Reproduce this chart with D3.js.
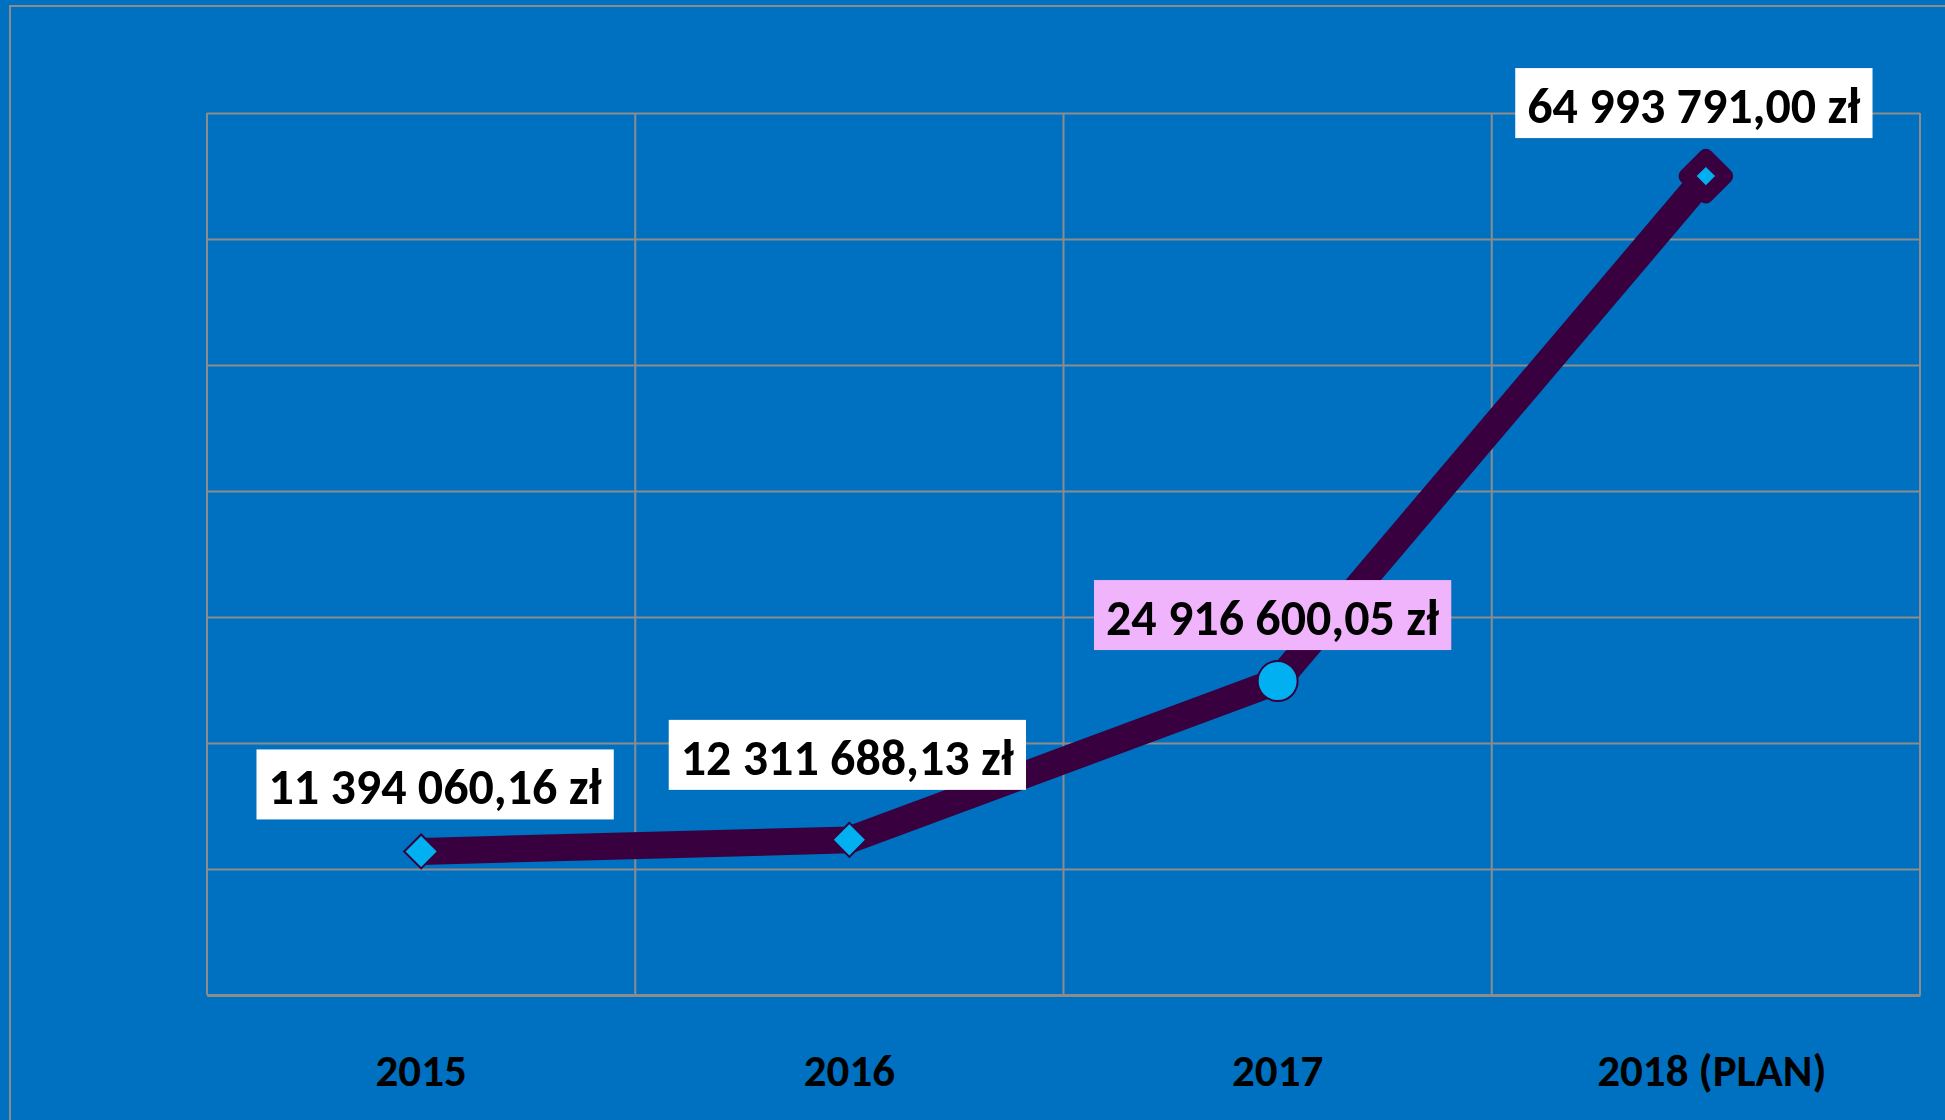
<!DOCTYPE html>
<html>
<head>
<meta charset="utf-8">
<script src="https://cdnjs.cloudflare.com/ajax/libs/d3/7.8.5/d3.min.js"></script>
<style>
	html, body { margin: 0; padding: 0; background: #0070c0; overflow: hidden; }
	svg { display: block; }
</style>
</head>
<body>
<svg id="chart"></svg>
<script>
// data
var years = ["2015", "2016", "2017", "2018 (PLAN)"];
var amounts = [11394060.16, 12311688.13, 24916600.05, 64993791.00];
var yTicks = [0, 10e6, 20e6, 30e6, 40e6, 50e6, 60e6, 70e6];

// per point styling (the labels were placed by hand in the original)
var markerKinds = ["diamond", "diamond", "circle", "endDiamond"];
var labelFills = ["#ffffff", "#ffffff", "#f0b4fc", "#ffffff"];
var labelOffsets = [[14, -47], [-2, -65], [-5, -46], [-12, -53]];

var W = 1945, H = 1120;
var margin = {top: 113, right: 25, bottom: 125, left: 207};
var width = W - margin.left - margin.right;
var height = H - margin.top - margin.bottom;

var lineColour = "#38003e";
var markerColour = "#00b0f0";
var gridColour = "#8c8c8c";
var fontFamily = "Carlito, Calibri, 'Open Sans', sans-serif";

var pl = d3.formatLocale({decimal: ",", thousands: " ", grouping: [3], currency: ["", " zł"]});
var money = pl.format("$,.2f");

var svg = d3.select("#chart")
	.attr("width", W)
	.attr("height", H);

svg.append("rect")
	.attr("width", W)
	.attr("height", H)
	.attr("fill", "#0070c0");

// outer frame of the chart object
svg.append("rect")
	.attr("x", 10)
	.attr("y", 6)
	.attr("width", W + 50)
	.attr("height", H + 50)
	.attr("fill", "none")
	.attr("stroke", gridColour)
	.attr("stroke-width", 2);

var g = svg.append("g")
	.attr("transform", "translate(" + margin.left + "," + margin.top + ")");

var x = d3.scaleBand()
	.domain(years)
	.range([0, width])
	.paddingInner(0)
	.paddingOuter(0);

var y = d3.scaleLinear()
	.domain([0, 70e6])
	.range([height, 0]);

var cx = function(d, i) { return x(years[i]) + x.bandwidth() / 2; };
var cy = function(d) { return y(d); };

// horizontal grid
var gy = g.append("g")
	.call(d3.axisLeft(y).tickValues(yTicks).tickSize(-width).tickFormat(""));
gy.select(".domain").remove();
gy.selectAll("line")
	.attr("stroke", gridColour)
	.attr("stroke-width", 2);

// vertical grid at category borders
g.append("g")
	.selectAll("line")
	.data(years.concat(["end"]))
	.join("line")
		.attr("x1", function(d, i) { return i < years.length ? x(d) : width; })
		.attr("x2", function(d, i) { return i < years.length ? x(d) : width; })
		.attr("y1", 0)
		.attr("y2", height)
		.attr("stroke", gridColour)
		.attr("stroke-width", 2);

// category axis
var gx = g.append("g")
	.attr("transform", "translate(0," + height + ")")
	.call(d3.axisBottom(x).tickSize(0));
gx.select(".domain")
	.attr("stroke", gridColour)
	.attr("stroke-width", 3);
gx.selectAll("text")
	.attr("y", 91)
	.attr("dy", 0)
	.attr("fill", "#000")
	.attr("font-family", fontFamily)
	.attr("font-weight", "bold")
	.attr("font-size", 45);
gx.selectAll(".tick").filter(function(d, i) { return i == years.length - 1; })
	.select("text")
		.attr("x", 6);

// the line
var line = d3.line()
	.x(cx)
	.y(cy);

g.append("path")
	.datum(amounts)
	.attr("fill", "none")
	.attr("stroke", lineColour)
	.attr("stroke-width", 27)
	.attr("stroke-linejoin", "round")
	.attr("stroke-linecap", "butt")
	.attr("d", line);

// markers
var square = function(side) { return d3.symbol().type(d3.symbolSquare).size(side * side)(); };
var markers = g.append("g")
	.selectAll("g")
	.data(amounts)
	.join("g")
		.attr("transform", function(d, i) { return "translate(" + cx(d, i) + "," + cy(d) + ")"; });

markers.each(function(d, i) {
	var m = d3.select(this);
	var kind = markerKinds[i];
	if (kind == "circle") {
		m.append("circle")
			.attr("r", 20)
			.attr("fill", markerColour)
			.attr("stroke", lineColour)
			.attr("stroke-width", 2);
	} else if (kind == "endDiamond") {
		m.append("path")
			.attr("d", square(28))
			.attr("transform", "rotate(45)")
			.attr("fill", markerColour)
			.attr("stroke", lineColour)
			.attr("stroke-width", 15)
			.attr("stroke-linejoin", "round");
	} else {
		m.append("path")
			.attr("d", square(24))
			.attr("transform", "rotate(45)")
			.attr("fill", markerColour)
			.attr("stroke", lineColour)
			.attr("stroke-width", 2);
	}
});

// data labels
var labels = g.append("g")
	.selectAll("g")
	.data(amounts)
	.join("g")
		.attr("transform", function(d, i) {
			return "translate(" + (cx(d, i) + labelOffsets[i][0]) + "," + (cy(d) + labelOffsets[i][1]) + ")";
		});

labels.append("rect")
	.attr("fill", function(d, i) { return labelFills[i]; });

labels.append("text")
	.attr("text-anchor", "middle")
	.attr("fill", "#000")
	.attr("font-family", fontFamily)
	.attr("font-weight", "bold")
	.attr("font-size", 50)
	.text(function(d) { return money(d); });

labels.each(function() {
	var l = d3.select(this);
	var tw = l.select("text").node().getComputedTextLength();
	l.select("rect")
		.attr("x", -tw / 2 - 12)
		.attr("y", -55)
		.attr("width", tw + 24)
		.attr("height", 70);
});
</script>
</body>
</html>
